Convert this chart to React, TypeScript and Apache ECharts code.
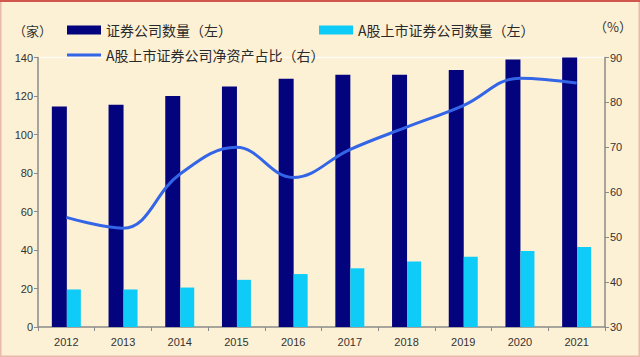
import React, { useEffect, useRef } from "react";
import * as echarts from "echarts";

const years = ["2012", "2013", "2014", "2015", "2016", "2017", "2018", "2019", "2020", "2021"];
const brokers = [114.5, 115.5, 120, 125, 129, 131, 131, 133.5, 139, 140];
const listedBrokers = [19.5, 19.5, 20.5, 24.5, 27.5, 30.5, 34, 36.5, 39.5, 41.5];
const netAssetShare = [54.4, 52, 64, 70, 63.3, 69.5, 74.5, 79.3, 85.4, 84.3];
const leftTicks = { min: 0, max: 140, interval: 20 };
const rightTicks = { min: 30, max: 90, interval: 10 };

const nameA = "证券公司数量（左）";
const nameB = "A股上市证券公司数量（左）";
const nameC = "A股上市证券公司净资产占比（右）";

export default function App() {
  const ref = useRef<HTMLDivElement>(null);
  useEffect(() => {
    document.body.style.margin = "0";
    const chart = echarts.init(ref.current!, null, { renderer: "svg" });
    const cjk = "'Noto Sans CJK SC', sans-serif";
    const axisFont = "'Liberation Sans', Arial, sans-serif";
    const axisColor = "#8a8a8a";
    const legendText = { fontFamily: cjk, fontSize: 14, color: "#2a2a2a" };
    chart.setOption({
      animation: false,
      backgroundColor: "#fdf1d5",
      grid: { left: 38, right: 35, top: 57.5, bottom: 30, containLabel: false },
      legend: [
        {
          data: [nameA], left: 67, top: 23, itemWidth: 34, itemHeight: 9, itemGap: 4,
          icon: "rect", textStyle: legendText, padding: [0, 0, 0, 0],
        },
        {
          data: [nameB], left: 319, top: 23, itemWidth: 34, itemHeight: 9, itemGap: 4,
          icon: "rect", textStyle: legendText, padding: [0, 0, 0, 0],
        },
        {
          data: [nameC], left: 67, top: 48, itemWidth: 34, itemHeight: 3, itemGap: 4,
          icon: "rect", textStyle: legendText, padding: [0, 0, 0, 0],
        },
      ],
      graphic: [
        { type: "rect", shape: { x: 0.5, y: 0.5, width: 639, height: 356 }, style: { fill: "none", stroke: "#e9b9ae", lineWidth: 2 }, silent: true },
        { type: "line", shape: { x1: 0, y1: 1, x2: 640, y2: 1 }, style: { stroke: "#d0564e", lineWidth: 2 }, silent: true },
        { type: "line", shape: { x1: 38, y1: 57.5, x2: 605, y2: 57.5 }, style: { stroke: "#ffffff", lineWidth: 1.5, opacity: 0.8 }, silent: true, z: -1 },
        { type: "text", left: 13, top: 24, style: { text: "（家）", fontFamily: cjk, fontSize: 13, fill: "#333" } },
        { type: "text", left: 594, top: 20, style: { text: "（%）", fontFamily: cjk, fontSize: 13, fill: "#333" } },
      ],
      xAxis: {
        type: "category",
        data: years,
        boundaryGap: true,
        axisLine: { lineStyle: { color: axisColor, width: 1.5 } },
        axisTick: { show: true, length: 4, alignWithLabel: false, lineStyle: { color: axisColor } },
        axisLabel: { fontFamily: axisFont, fontSize: 11, color: "#333", margin: 9 },
        splitLine: { show: false },
      },
      yAxis: [
        {
          type: "value",
          min: leftTicks.min, max: leftTicks.max, interval: leftTicks.interval,
          axisLine: { show: true, lineStyle: { color: axisColor, width: 1.5 } },
          axisTick: { show: true, length: 4, lineStyle: { color: axisColor } },
          axisLabel: { fontFamily: axisFont, fontSize: 11, color: "#333", margin: 5 },
          splitLine: { show: false },
        },
        {
          type: "value",
          position: "right",
          min: rightTicks.min, max: rightTicks.max, interval: rightTicks.interval,
          axisLine: { show: true, lineStyle: { color: axisColor, width: 1.5 } },
          axisTick: { show: true, length: 4, lineStyle: { color: axisColor } },
          axisLabel: { fontFamily: axisFont, fontSize: 11, color: "#333", margin: 5 },
          splitLine: { show: false },
        },
      ],
      series: [
        {
          name: nameA, type: "bar", data: brokers, yAxisIndex: 0,
          barWidth: 15, barGap: "0%", itemStyle: { color: "#03037e" },
        },
        {
          name: nameB, type: "bar", data: listedBrokers, yAxisIndex: 0,
          barWidth: 14, barGap: "0%", itemStyle: { color: "#0ecbf8" },
        },
        {
          name: nameC, type: "line", data: netAssetShare, yAxisIndex: 1,
          smooth: 0.4, symbol: "none", lineStyle: { color: "#3465e6", width: 3 },
          itemStyle: { color: "#3465e6" },
        },
      ],
    });
    return () => chart.dispose();
  }, []);
  return <div ref={ref} style={{ width: 640, height: 357 }} />;
}
